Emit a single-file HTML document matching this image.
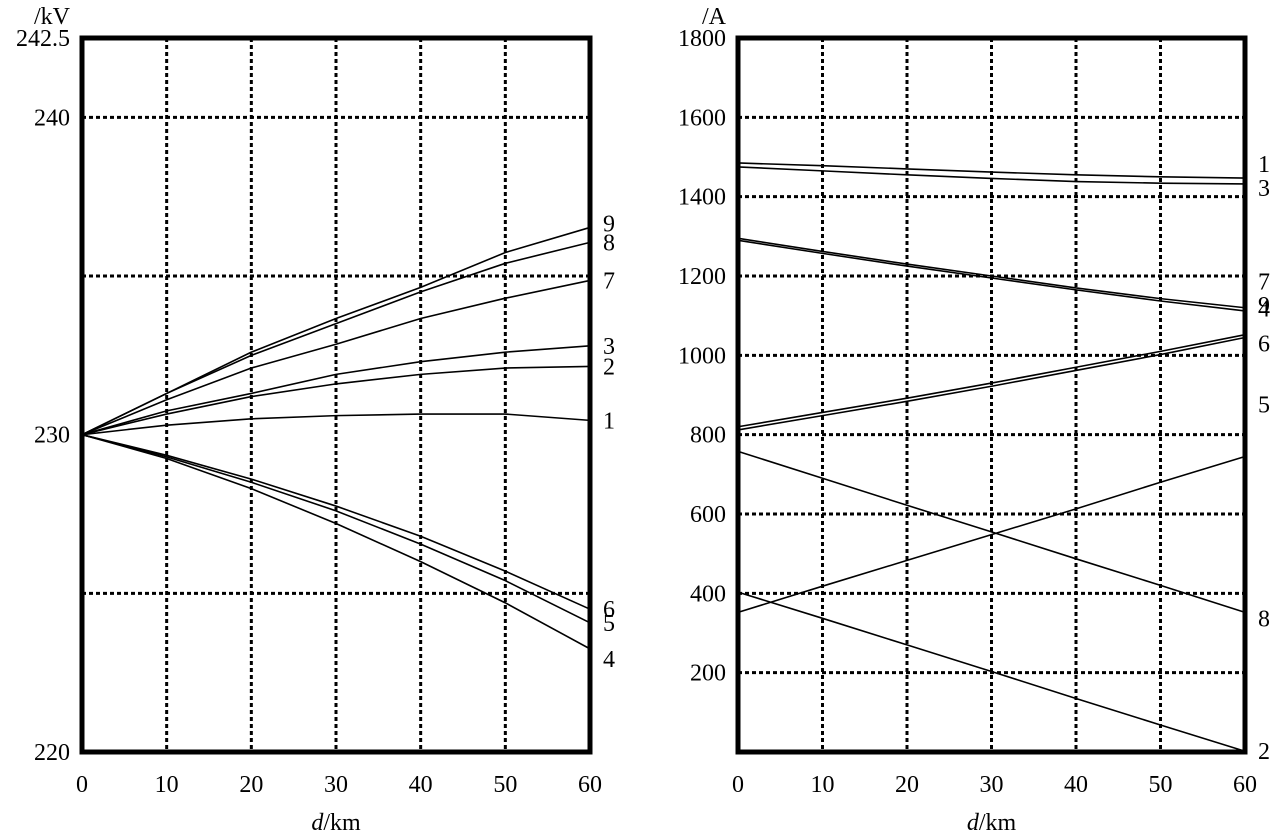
<!DOCTYPE html>
<html><head><meta charset="utf-8"><style>
body{margin:0;background:#fff}
svg text{font-family:"Liberation Serif",serif;font-size:24px;fill:#000}
</style></head><body>
<svg id="c" width="1270" height="834"></svg>
<script>
const dist=[0,10,20,30,40,50,60];
const leftTicksY=[220,230,240,242.5];
const leftGridY=[225,235,240];
const xTicks=[0,10,20,30,40,50,60];
const rightTicksY=[200,400,600,800,1000,1200,1400,1600,1800];
const vNames=["1","2","3","4","5","6","7","8","9"];
const v1=[230,230.3,230.5,230.6,230.65,230.65,230.45];
const v2=[230,230.65,231.2,231.6,231.9,232.1,232.15];
const v3=[230,230.75,231.3,231.9,232.3,232.6,232.8];
const v4=[230,229.25,228.3,227.2,226.0,224.7,223.25];
const v5=[230,229.3,228.5,227.6,226.55,225.4,224.07];
const v6=[230,229.35,228.6,227.75,226.8,225.7,224.5];
const v7=[230,231.1,232.1,232.85,233.66,234.3,234.86];
const v8=[230,231.3,232.5,233.5,234.5,235.4,236.06];
const v9=[230,231.3,232.6,233.66,234.64,235.74,236.53];
const i1=[1485,1478,1470,1462,1455,1450,1447];
const i2=[403,337,270,203,135,68,2];
const i3=[1475,1465,1455,1446,1438,1434,1432];
const i4=[820,856,892,930,970,1010,1052];
const i5=[352,418,483,548,613,680,745];
const i6=[812,848,884,922,962,1002,1045];
const i7=[1295,1262,1230,1200,1170,1143,1120];
const i8=[758,690,622,555,487,420,352];
const i9=[1290,1257,1225,1195,1165,1137,1112];
const vSeries=[v1,v2,v3,v4,v5,v6,v7,v8,v9];
const iSeries=[i1,i2,i3,i4,i5,i6,i7,i8,i9];
const vLabelOff=[0,0,0,10,0,0,0,0,-4];
const iLabelOff=[-14,0,4,-26,-52,6,-26,6,-6];

const NS="http://www.w3.org/2000/svg";
const svg=document.getElementById('c');
function mk(t,a,p){const e=document.createElementNS(NS,t);for(const k in a)e.setAttribute(k,a[k]);(p||svg).appendChild(e);return e;}

function panel(name,x0,x1,yTop,yBot,vmin,vmax,ticksY,gridY,series,unit,labOff){
  const g=mk('g',{});
  
  
  const sx=d=>x0+(d-0)/60*(x1-x0);
  const sy=v=>yBot-(v-vmin)/(vmax-vmin)*(yBot-yTop);
  xTicks.forEach(t=>{
    if(t>0&&t<60){const l=mk('line',{x1:sx(t),x2:sx(t),y1:yTop,y2:yBot,stroke:'#000','stroke-width':3,'stroke-dasharray':'4 3'},g);
    }
    const tx=mk('text',{x:sx(t),y:792,'text-anchor':'middle'},g);tx.textContent=t;
    
  });
  gridY.forEach(v=>{const l=mk('line',{x1:x0,x2:x1,y1:sy(v),y2:sy(v),stroke:'#000','stroke-width':3,'stroke-dasharray':'4 3'},g);
    });
  ticksY.forEach(v=>{const tx=mk('text',{x:x0-12,y:sy(v)+8,'text-anchor':'end'},g);tx.textContent=v;
    });
  series.forEach((s,k)=>{
    const p=mk('polyline',{points:s.map((v,j)=>sx(dist[j])+','+sy(v)).join(' '),fill:'none',stroke:'#000','stroke-width':1.6},g);
    
    const lb=mk('text',{x:x1+13,y:sy(s[6])+8+labOff[k]},g);lb.textContent=vNames[k];
    
  });
  const r=mk('rect',{x:x0,y:yTop,width:x1-x0,height:yBot-yTop,fill:'none',stroke:'#000','stroke-width':5},g);
  
  const u=mk('text',{x:x0-12,y:yTop-14,'text-anchor':'end'},g);u.textContent=unit;
  
  const xt=mk('text',{x:(x0+x1)/2,y:830,'text-anchor':'middle'},g);
  xt.innerHTML='<tspan font-style="italic">d</tspan>/km';
  
}
panel('voltage-panel',82,590,38,752,220,242.5,leftTicksY,leftGridY,vSeries,'/kV',vLabelOff);
panel('current-panel',738,1245,38,752,0,1800,rightTicksY,[200,400,600,800,1000,1200,1400,1600],iSeries,'/A',iLabelOff);
</script>
</body></html>
